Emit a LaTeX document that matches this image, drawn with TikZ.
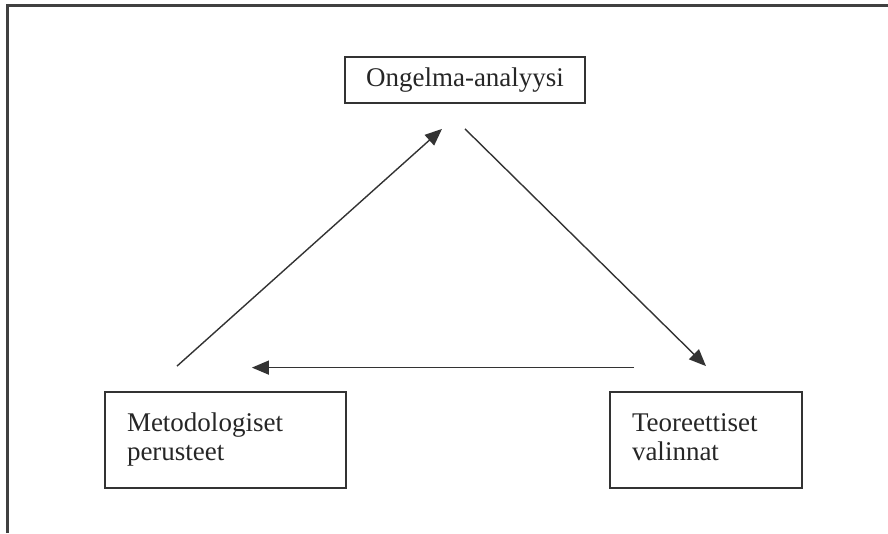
\documentclass[tikz,border=0pt]{standalone}
\usepackage{fontspec}
\setmainfont{Liberation Serif}
\usetikzlibrary{arrows.meta}
\begin{document}
\begin{tikzpicture}[x=1pt, y=-1pt,
  box/.style={draw=black!80, line width=1.8pt, rectangle, text=black!85, font=\fontsize{27}{29}\selectfont},
  flow/.style={draw=black!80, line width=1.4pt, -{Triangle[length=17pt, width=14pt]}}]
\useasboundingbox (0,0) rectangle (888,533);
% outer frame
\draw[black!75, line width=2.4pt] (7.5,533) -- (7.5,5.5) -- (888,5.5);
% boxes
\node[box, minimum width=240, minimum height=46, inner sep=0pt] (ongelma) at (465,80) {Ongelma-analyysi};
\node[box, text width=197pt, align=left, inner xsep=22pt, inner ysep=0pt, minimum height=96] (metodi) at (225.5,440) {\strut Metodologiset\\perusteet\strut};
\node[box, text width=148pt, align=left, inner xsep=22pt, inner ysep=0pt, minimum height=96] (teoria) at (706,440) {\strut Teoreettiset\\valinnat\strut};
% arrow ends
\coordinate (m-out) at ([shift={(-48.5,-25)}]metodi.north);
\coordinate (o-in) at ([shift={(-23,25)}]ongelma.south);
\coordinate (o-out) at ([shift={(0,25)}]ongelma.south);
\coordinate (t-in) at ([shift={(0,-25)}]teoria.north);
\coordinate (t-out) at ([shift={(25,-23.5)}]teoria.north west);
\coordinate (m-in) at ([shift={(-95,-23.5)}]metodi.north east);
\draw[flow] (m-out) -- (o-in);
\draw[flow] (o-out) -- (t-in);
\draw[flow] (t-out) -- (m-in);
\end{tikzpicture}
\end{document}
